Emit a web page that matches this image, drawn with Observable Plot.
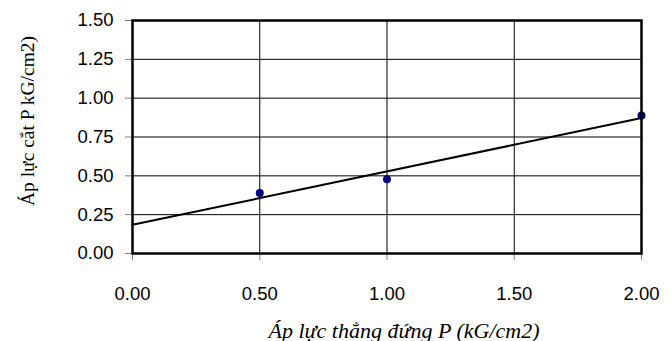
<!DOCTYPE html>
<html>
<head>
<meta charset="utf-8">
<script src="https://cdn.jsdelivr.net/npm/d3@7"></script>
<script src="https://cdn.jsdelivr.net/npm/@observablehq/plot@0.6"></script>
<style>
  html, body { margin: 0; padding: 0; background: #fff; }
  #chart svg { display: block; }
</style>
</head>
<body>
<div id="chart"></div>
<script>
// Data
const pressure = [0.5, 1.0, 2.0];          // Áp lực thẳng đứng P (kG/cm2)
const shear = [0.39, 0.478, 0.889];        // Áp lực cắt (kG/cm2)
const xTicks = [0, 0.5, 1, 1.5, 2];
const yTicks = [0, 0.25, 0.5, 0.75, 1, 1.25, 1.5];
const xLabel = "Áp lực thẳng đứng P (kG/cm2)";
const yLabel = "Áp lực cắt P kG/cm2)";

const points = pressure.map((p, i) => ({p, s: shear[i]}));

// Least-squares trend line (Excel-style linear trendline, extended over the x domain)
const mx = d3.mean(pressure), my = d3.mean(shear);
const slope = d3.sum(pressure, (p, i) => (p - mx) * (shear[i] - my)) / d3.sum(pressure, p => (p - mx) ** 2);
const intercept = my - slope * mx;
const xExtent = d3.extent(xTicks);
const trend = xExtent.map(p => ({p, s: intercept + slope * p}));

const chart = Plot.plot({
  width: 672,
  height: 341,
  marginLeft: 132,
  marginRight: 31,
  marginTop: 20,
  marginBottom: 88,
  style: {fontFamily: "'Liberation Sans', Arial, sans-serif", fontSize: "18.5px", background: "#fff", color: "#000"},
  x: {domain: xExtent, ticks: xTicks},
  y: {domain: d3.extent(yTicks), ticks: yTicks},
  marks: [
    Plot.gridX(xTicks.slice(1, -1), {stroke: "#000", strokeOpacity: 1, strokeWidth: 1}),
    Plot.gridY(yTicks.slice(1, -1), {stroke: "#000", strokeOpacity: 1, strokeWidth: 1}),
    Plot.axisX(xTicks, {tickFormat: d => d.toFixed(2), tickSize: 7, tickPadding: 26, color: "#000", stroke: "#808080", label: null, fontSize: 18.5}),
    Plot.axisY(yTicks, {tickFormat: d => d.toFixed(2), tickSize: 7, tickPadding: 12, color: "#000", stroke: "#808080", label: null, fontSize: 18.5}),
    Plot.line(trend, {x: "p", y: "s", stroke: "#000", strokeWidth: 2}),
    Plot.dot(points, {x: "p", y: "s", r: 4, fill: "#000080", stroke: "none"}),
    Plot.frame({stroke: "#000", strokeWidth: 2.5}),
    Plot.text([xLabel], {frameAnchor: "bottom", text: d => d, dx: 17, dy: 84, textAnchor: "middle", lineAnchor: "bottom", fontFamily: "'Liberation Serif', 'Times New Roman', serif", fontStyle: "italic", fontSize: 22, fill: "#000"}),
    Plot.text([yLabel], {frameAnchor: "left", text: d => d, rotate: -90, dx: -99, dy: -16, textAnchor: "middle", lineAnchor: "bottom", fontFamily: "'Liberation Serif', 'Times New Roman', serif", fontSize: 19.5, fill: "#000"})
  ]
});
document.getElementById("chart").appendChild(chart);
</script>
</body>
</html>
